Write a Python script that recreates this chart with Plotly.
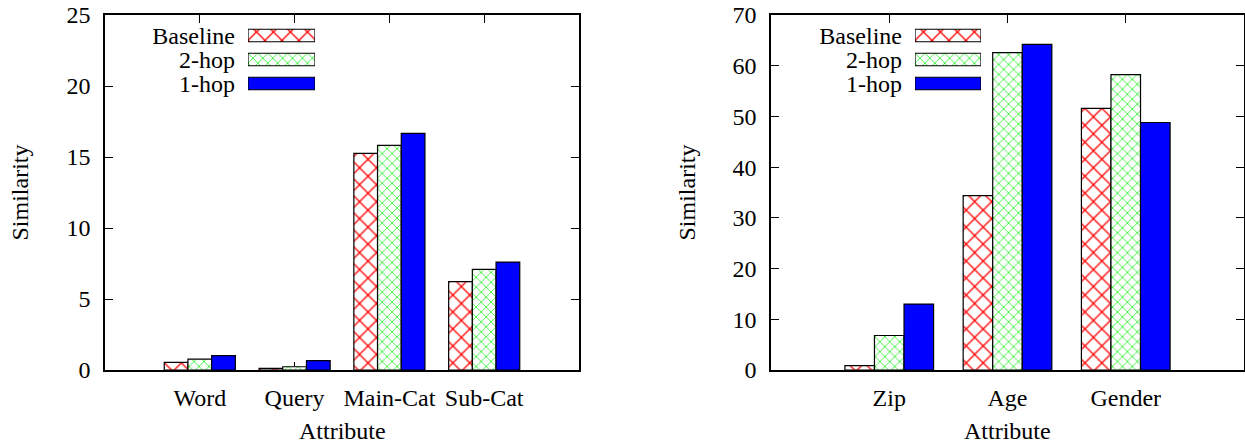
import plotly.graph_objects as go

# ---------------- data ----------------
series_names = ["Baseline", "2-hop", "1-hop"]

left_categories = ["Word", "Query", "Main-Cat", "Sub-Cat"]
left_baseline = [0.54, 0.12, 15.26, 6.22]
left_2hop = [0.77, 0.23, 15.82, 7.09]
left_1hop = [1.01, 0.66, 16.67, 7.60]
left_yticks = [0, 5, 10, 15, 20, 25]

right_categories = ["Zip", "Age", "Gender"]
right_baseline = [0.85, 34.4, 51.6]
right_2hop = [6.8, 62.6, 58.25]
right_1hop = [13.0, 64.2, 48.8]
right_yticks = [0, 10, 20, 30, 40, 50, 60, 70]

x_title = "Attribute"
y_title = "Similarity"

# ---------------- styles ----------------
W, H = 1245, 443
FONT = "Liberation Serif, Times New Roman, DejaVu Serif, serif"
FS = 24
styles = [
    dict(color="white", pattern=dict(shape="x", fgcolor="#ff0000", bgcolor="white", size=12,
                                     solidity=0.2, fgopacity=1, fillmode="replace")),
    dict(color="white", pattern=dict(shape="x", fgcolor="#22ee22", bgcolor="white", size=7,
                                     solidity=0.22, fgopacity=1, fillmode="replace")),
    dict(color="#0000ff", pattern=dict(shape="", fgcolor="#0000ff", bgcolor="#0000ff", size=8,
                                       solidity=0.3, fgopacity=1, fillmode="replace")),
]


def px_x(x):
    return x / W


def px_y(y):
    return 1 - y / H


fig = go.Figure()

left_vals = [left_baseline, left_2hop, left_1hop]
right_vals = [right_baseline, right_2hop, right_1hop]

for name, vals, st in zip(series_names, left_vals, styles):
    fig.add_trace(go.Bar(
        x=left_categories, y=vals, name=name, xaxis="x", yaxis="y",
        marker=dict(color=st["color"], pattern=st["pattern"], line=dict(color="black", width=1.2)),
        showlegend=False, offsetgroup=name + "L",
    ))
for name, vals, st in zip(series_names, right_vals, styles):
    fig.add_trace(go.Bar(
        x=right_categories, y=vals, name=name, xaxis="x2", yaxis="y2",
        marker=dict(color=st["color"], pattern=st["pattern"], line=dict(color="black", width=1.2)),
        showlegend=False, offsetgroup=name + "R",
    ))

# legend keys: small horizontal bars on their own axes (labels = category ticks)
for xa, ya in (("x3", "y3"), ("x4", "y4")):
    for name, st in zip(series_names, styles):
        fig.add_trace(go.Bar(
            y=[name], x=[1], orientation="h", xaxis=xa, yaxis=ya,
            width=0.52, offset=-0.26, offsetgroup="legend" + xa,
            showlegend=False, hoverinfo="skip",
            marker=dict(color=st["color"], pattern=st["pattern"],
                        line=dict(color="black", width=1.2)),
        ))

plot_top, plot_bot = 15, 370
ydom = [px_y(plot_bot), px_y(plot_top)]
left_dom = [px_x(105), px_x(579)]
right_dom = [px_x(771), px_x(1244)]

axis_common = dict(showline=True, linecolor="black", linewidth=1.5, mirror="ticks",
                   ticks="inside", ticklen=8, tickwidth=1, tickcolor="black",
                   showgrid=False, zeroline=False, automargin=False,
                   tickfont=dict(family=FONT, size=FS, color="black"))

leg_dom_y = [px_y(95.5), px_y(23.5)]
leg_y_common = dict(type="category", autorange="reversed", automargin=False,
                    tickmode="array", tickvals=series_names, ticktext=series_names,
                    showline=False, ticks="", showgrid=False, zeroline=False,
                    ticklabelstandoff=12, tickfont=dict(family=FONT, size=FS, color="black"))

fig.update_layout(
    width=W, height=H,
    margin=dict(l=0, r=0, t=0, b=0, pad=0, autoexpand=False),
    paper_bgcolor="white", plot_bgcolor="white",
    barmode="group", bargap=0.25, bargroupgap=0,
    font=dict(family=FONT, size=FS, color="black"),
    xaxis=dict(domain=left_dom, anchor="y", type="category", range=[-1, 4],
               ticklabelstandoff=5, layer="below traces", **axis_common),
    yaxis=dict(domain=ydom, anchor="x", range=[0, 25], tickvals=left_yticks,
               ticklabelstandoff=8, **axis_common),
    xaxis2=dict(domain=right_dom, anchor="y2", type="category", range=[-1, 3],
                ticklabelstandoff=5, layer="below traces", **axis_common),
    yaxis2=dict(domain=ydom, anchor="x2", range=[0, 70], tickvals=right_yticks,
                ticklabelstandoff=8, **axis_common),
    xaxis3=dict(domain=[px_x(248), px_x(315)], anchor="y3", range=[0, 1], visible=False,
                automargin=False),
    yaxis3=dict(domain=leg_dom_y, anchor="x3", **leg_y_common),
    xaxis4=dict(domain=[px_x(915), px_x(981)], anchor="y4", range=[0, 1], visible=False,
                automargin=False),
    yaxis4=dict(domain=leg_dom_y, anchor="x4", **leg_y_common),
)

# axis titles
for cx, ty in ((342, 19), (1007.5, 686)):
    fig.add_annotation(text=x_title, x=px_x(cx), y=px_y(431), xref="paper", yref="paper",
                       showarrow=False, xanchor="center", yanchor="middle",
                       font=dict(family=FONT, size=FS, color="black"))
    fig.add_annotation(text=y_title, x=px_x(ty), y=px_y(192.5), xref="paper", yref="paper",
                       showarrow=False, xanchor="center", yanchor="middle", textangle=-90,
                       font=dict(family=FONT, size=FS, color="black"))

fig.write_html("out.html")
